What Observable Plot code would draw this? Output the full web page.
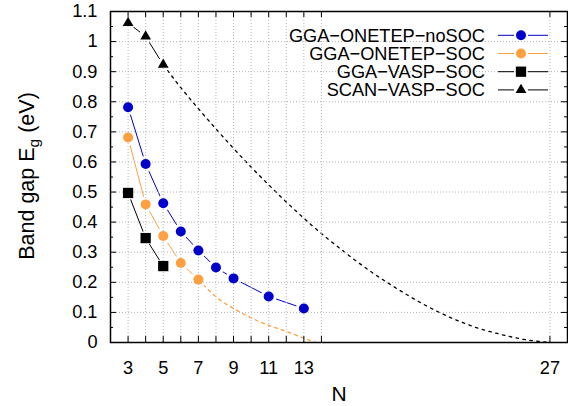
<!DOCTYPE html>
<html>
<head>
<meta charset="utf-8">
<script src="https://cdn.jsdelivr.net/npm/d3@7"></script>
<script src="https://cdn.jsdelivr.net/npm/@observablehq/plot@0.6"></script>
<style>
  body { margin: 0; background: #fff; }
  svg { display: block; }
</style>
</head>
<body>
<div id="chart"></div>
<script>
// Band gap vs. N for the four calculation set-ups
const nNoSoc = [3, 4, 5, 6, 7, 8, 9, 11, 13];
const gapNoSoc = [0.782, 0.593, 0.463, 0.369, 0.306, 0.249, 0.213, 0.153, 0.113];

const nSoc = [3, 4, 5, 6, 7];
const gapSoc = [0.681, 0.459, 0.354, 0.264, 0.209];

const nVasp = [3, 4, 5];
const gapVasp = [0.497, 0.347, 0.254];

const nScan = [3, 4, 5];
const gapScan = [1.062, 1.017, 0.923];

// Extrapolated trends (dotted)
const nSocFit = [7, 8, 9, 10, 11, 12, 13, 13.7];
const gapSocFit = [0.209, 0.152, 0.113, 0.082, 0.057, 0.037, 0.014, 0];

const nScanFit = [5, 6, 7, 8, 9, 10, 11, 12, 13, 14, 15, 16, 17, 18, 19, 20, 21, 22, 23, 24, 25, 26, 27];
const gapScanFit = [0.923, 0.847, 0.777, 0.71, 0.645, 0.583, 0.524, 0.467, 0.413, 0.362, 0.315, 0.27,
                    0.228, 0.19, 0.154, 0.121, 0.092, 0.067, 0.046, 0.03, 0.016, 0.006, 0];

// Axis ticks and labels
const xTickLabels = [3, 5, 7, 9, 11, 13, 27];
const xGrid = [3, 4, 5, 6, 7, 8, 9, 10, 11, 12, 13, 14, 27];
const yMajor = [0, 0.1, 0.2, 0.3, 0.4, 0.5, 0.6, 0.7, 0.8, 0.9, 1, 1.1];
const yMinor = [0.05, 0.15, 0.25, 0.35, 0.45, 0.55, 0.65, 0.75, 0.85, 0.95, 1.05];
const yGrid = [0.1, 0.2, 0.3, 0.4, 0.5, 0.6, 0.7, 0.8, 0.9, 1];

const seriesNames = ["GGA−ONETEP−noSOC", "GGA−ONETEP−SOC", "GGA−VASP−SOC", "SCAN−VASP−SOC"];

const BLUE = "#0000cc", ORANGE = "#ffa040", BLACK = "#000000";

const rows = (xs, ys) => xs.map((x, i) => ({x, y: ys[i]}));
const noSoc = rows(nNoSoc, gapNoSoc);
const soc = rows(nSoc, gapSoc);
const vasp = rows(nVasp, gapVasp);
const scan = rows(nScan, gapScan);
const socFit = rows(nSocFit, gapSocFit);
const scanFit = rows(nScanFit, gapScanFit);

const W = 568, H = 406;
const M = {top: 11, right: 1, bottom: 64, left: 110};
const innerW = W - M.left - M.right;
const innerH = H - M.top - M.bottom;

const FONT = 18.2;
const gridStyle = {stroke: "#b4b4b4", strokeWidth: 1, strokeDasharray: "1,2"};
const xy = {x: "x", y: "y"};

const chart = Plot.plot({
  width: W,
  height: H,
  marginTop: M.top,
  marginRight: M.right,
  marginBottom: M.bottom,
  marginLeft: M.left,
  x: {type: "linear", domain: [2, 28]},
  y: {type: "linear", domain: [0, 1.1]},
  style: {fontFamily: "'Liberation Sans', Arial, Helvetica, sans-serif", fontSize: `${FONT}px`, background: "#fff", color: "#000"},
  marks: [
    // trend lines
    Plot.line(scanFit, {...xy, stroke: BLACK, strokeWidth: 1.3, strokeDasharray: "2.5,4.5", curve: "natural"}),
    Plot.line(socFit, {...xy, stroke: ORANGE, strokeWidth: 1.3, strokeDasharray: "3,4", curve: "natural"}),
    // data lines
    Plot.line(noSoc, {...xy, stroke: BLUE, strokeWidth: 1}),
    Plot.line(soc, {...xy, stroke: ORANGE, strokeWidth: 1}),
    Plot.line(vasp, {...xy, stroke: BLACK, strokeWidth: 1}),
    Plot.line(scan, {...xy, stroke: BLACK, strokeWidth: 1}),
    // white gaps round each point
    Plot.dot([...noSoc, ...soc], {...xy, r: 8, fill: "#fff", stroke: null}),
    Plot.dot([...vasp, ...scan], {...xy, r: 7, fill: "#fff", stroke: null}),
    // grid
    Plot.ruleX(xGrid, {x: d => d, ...gridStyle}),
    Plot.ruleY(yGrid, {y: d => d, ...gridStyle}),
    // inward ticks on all four sides
    Plot.tickX(xGrid, {x: d => d, insetTop: innerH - 6, stroke: BLACK}),
    Plot.tickX(xGrid, {x: d => d, insetBottom: innerH - 6, stroke: BLACK}),
    Plot.tickY(yMajor, {y: d => d, insetRight: innerW - 6, stroke: BLACK}),
    Plot.tickY(yMinor, {y: d => d, insetRight: innerW - 3, stroke: BLACK}),
    Plot.tickY(yMajor, {y: d => d, insetLeft: innerW - 6, stroke: BLACK}),
    Plot.tickY(yMinor, {y: d => d, insetLeft: innerW - 3, stroke: BLACK}),
    Plot.frame({stroke: BLACK, strokeWidth: 1.5}),
    // points
    Plot.dot(noSoc, {...xy, r: 5, fill: BLUE, stroke: null}),
    Plot.dot(soc, {...xy, r: 5, fill: ORANGE, stroke: null}),
    Plot.dot(vasp, {...xy, symbol: "square", r: 5.8, fill: BLACK, stroke: null}),
    Plot.dot(scan, {...xy, symbol: "triangle", r: 4, fill: BLACK, stroke: null}),
    // axes
    Plot.axisX({ticks: xTickLabels, tickSize: 0, tickPadding: 18.5, label: null, tickFormat: d => String(d)}),
    Plot.axisY({ticks: yMajor, tickSize: 0, tickPadding: 13, label: null, tickFormat: d => String(d)}),
    Plot.text(["N"], {text: d => d, frameAnchor: "bottom", dy: 51.5, fontSize: 21, lineAnchor: "middle"})
  ]
});

document.getElementById("chart").appendChild(chart);

const svg = d3.select(chart);

// y-axis title with subscript
const yl = svg.append("text")
  .attr("transform", "translate(34,176) rotate(-90)")
  .attr("text-anchor", "middle")
  .attr("font-size", 21.5)
  .attr("fill", "#000");
yl.append("tspan").text("Band gap E");
yl.append("tspan").attr("font-size", 15.5).attr("dy", 5).text("g");
yl.append("tspan").attr("dy", -5).text(" (eV)");

// key
const keyStyles = [
  {color: BLUE, symbol: d3.symbolCircle, size: Math.PI * 25},
  {color: ORANGE, symbol: d3.symbolCircle, size: Math.PI * 25},
  {color: BLACK, symbol: d3.symbolSquare, size: Math.PI * 5.8 * 5.8},
  {color: BLACK, symbol: d3.symbolTriangle, size: Math.PI * 16}
];
const key = svg.append("g").attr("font-size", FONT);
seriesNames.forEach((name, i) => {
  const cy = 35.3 + i * 18.2;
  const s = keyStyles[i];
  const g = key.append("g").attr("transform", `translate(0,${cy})`);
  g.append("text").attr("x", 485).attr("dy", "0.35em").attr("text-anchor", "end").attr("fill", "#000").text(name);
  g.append("line").attr("x1", 498).attr("x2", 514).attr("stroke", s.color).attr("stroke-width", 1);
  g.append("line").attr("x1", 528).attr("x2", 548).attr("stroke", s.color).attr("stroke-width", 1);
  g.append("path").attr("transform", "translate(521,0)").attr("d", d3.symbol(s.symbol, s.size)()).attr("fill", s.color);
});
</script>
</body>
</html>
